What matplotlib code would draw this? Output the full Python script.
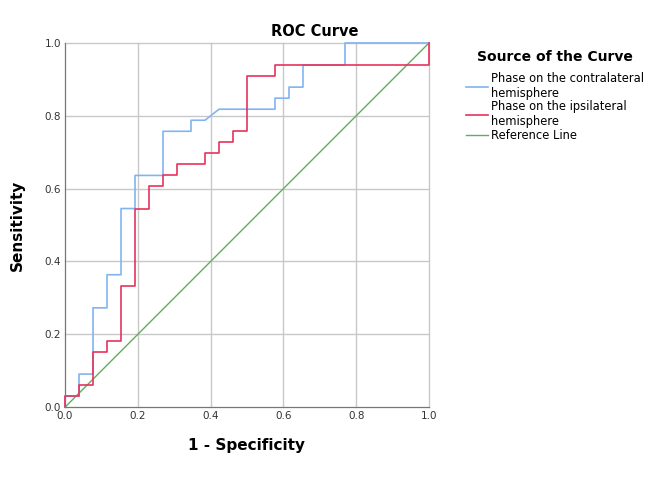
import matplotlib
matplotlib.use("Agg")
import matplotlib.pyplot as plt
import numpy as np

# ROC data: 26 negatives, 33 positives
n_neg = 26
n_pos = 33
contra_fpr = [0, 0, 1, 1, 2, 2, 3, 3, 4, 4, 5, 5, 7, 7, 9, 9, 10, 11, 15, 15, 16, 16, 17, 17, 20, 20, 26]
contra_tpr = [0, 1, 1, 3, 3, 9, 9, 12, 12, 18, 18, 21, 21, 25, 25, 26, 26, 27, 27, 28, 28, 29, 29, 31, 31, 33, 33]
ipsi_fpr = [0, 0, 1, 1, 2, 2, 3, 3, 4, 4, 5, 5, 6, 6, 7, 7, 8, 8, 10, 10, 11, 11, 12, 12, 13, 13, 15, 15, 26, 26]
ipsi_tpr = [0, 1, 1, 2, 2, 5, 5, 6, 6, 11, 11, 18, 18, 20, 20, 21, 21, 22, 22, 23, 23, 24, 24, 25, 25, 30, 30, 31, 31, 33]
ticks = [0.0, 0.2, 0.4, 0.6, 0.8, 1.0]

fig = plt.figure(figsize=(6.69, 4.83), dpi=100)
ax = fig.add_axes([0.0972, 0.157, 0.544, 0.754])

ax.plot(np.array(contra_fpr) / n_neg, np.array(contra_tpr) / n_pos, color="#82b4f2", lw=1.2,
        label="Phase on the contralateral\nhemisphere", zorder=3, clip_on=False)
ax.plot(np.array(ipsi_fpr) / n_neg, np.array(ipsi_tpr) / n_pos, color="#e6325c", lw=1.2,
        label="Phase on the ipsilateral\nhemisphere", zorder=3, clip_on=False)
ax.plot([0, 1], [0, 1], color="#5fae5f", lw=1.0, label="Reference Line", zorder=2, clip_on=False)

ax.set_xlim(0, 1)
ax.set_ylim(0, 1)
ax.set_xticks(ticks)
ax.set_yticks(ticks)
ax.set_xticklabels([f"{t:.1f}" for t in ticks])
ax.set_yticklabels([f"{t:.1f}" for t in ticks])
ax.tick_params(labelsize=7.5, colors="#333333", length=0, pad=3)
ax.grid(True, color="#c8c8c8", lw=1.0)
ax.set_axisbelow(True)
for gl in ax.get_xgridlines() + ax.get_ygridlines():
    gl.set_clip_on(False)
for s in ["top", "right"]:
    ax.spines[s].set_visible(False)
for s in ["left", "bottom"]:
    ax.spines[s].set_color("#777777")

ax.set_xlabel("1 - Specificity", fontsize=11, fontweight="bold", labelpad=12)
ax.set_ylabel("Sensitivity", fontsize=11, fontweight="bold", labelpad=14)
fig.text(315 / 669, 1 - 31 / 483, "ROC Curve", ha="center", va="center", fontsize=10.5, fontweight="bold")

h, l = ax.get_legend_handles_labels()
leg = fig.legend(h, l, loc="upper left", bbox_to_anchor=(460 / 669, 1 - 44 / 483), frameon=False,
                 title="Source of the Curve", fontsize=8.3, title_fontsize=10,
                 handlelength=1.9, handletextpad=0.3, labelspacing=0.05, borderpad=0)
leg.get_title().set_fontweight("bold")
for t in leg.get_texts():
    t.set_linespacing(1.18)
leg._legend_box.sep = 6

fig.savefig("out.png", dpi=100)
